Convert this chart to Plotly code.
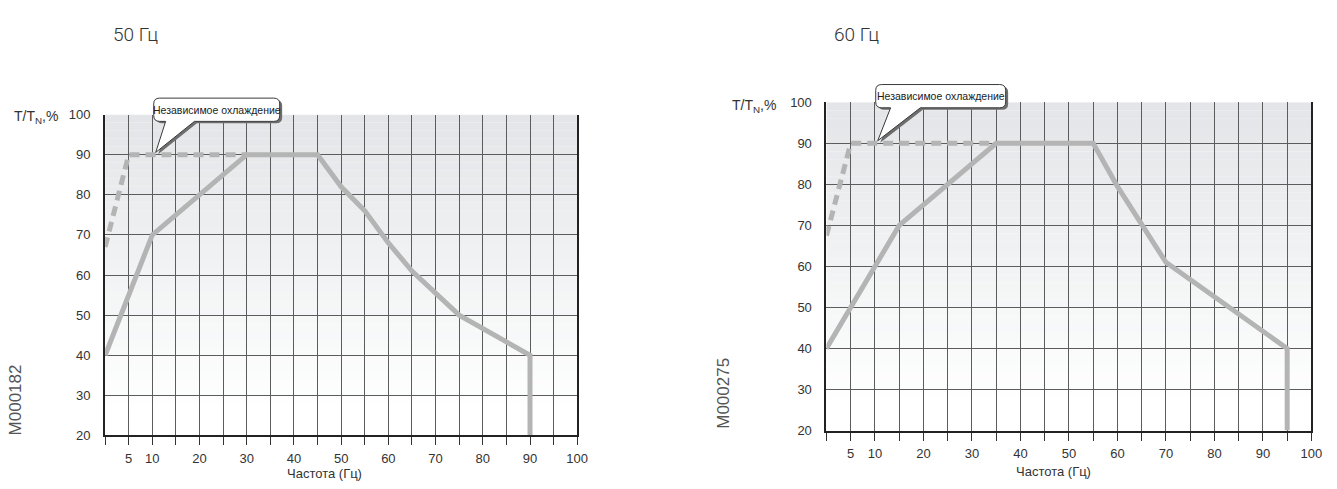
import plotly.graph_objects as go

# ---------------- data ----------------
freq50_solid = [0, 10, 30, 45, 50, 55, 60, 65, 75, 90, 90]
torque50_solid = [40, 70, 90, 90, 82, 76, 68, 61, 50, 40, 20]
freq50_dash = [0, 5, 30]
torque50_dash = [67, 90, 90]

freq60_solid = [0, 15, 35, 55, 60, 65, 70, 95, 95]
torque60_solid = [40, 70, 90, 90, 79.5, 70, 61, 40, 20]
freq60_dash = [0, 5, 35]
torque60_dash = [67.5, 90, 90]

x_tickvals = [5, 10, 20, 30, 40, 50, 60, 70, 80, 90, 100]
x_ticktext = ["5", "10", "20", "30", "40", "50", "60", "70", "80", "90", "100"]
y_tickvals = [20, 30, 40, 50, 60, 70, 80, 90, 100]

titles = ["50 Гц", "60 Гц"]
codes = ["M000182", "M000275"]
callout_text = "Независимое охлаждение"
x_title = "Частота (Гц)"
y_title = "T/T<sub>N</sub>,%"

# ---------------- geometry (pixels) ----------------
W, H = 1337, 489


def px(x):
    return x / W


def py(y):
    return 1 - y / H


LINE_COL = "#b4b4b4"
GRID_COL = "#5c5c5c"
TXT_COL = "#333333"
FONT = "Liberation Sans, Arial, sans-serif"
LIGHT = "Roboto, Liberation Sans, sans-serif"

fig = go.Figure()

panels = [
    dict(xs=freq50_solid, ys=torque50_solid, xd=freq50_dash, yd=torque50_dash, xa="x", ya="y"),
    dict(xs=freq60_solid, ys=torque60_solid, xd=freq60_dash, yd=torque60_dash, xa="x2", ya="y2"),
]

for p in panels:
    fig.add_trace(go.Scatter(x=p["xd"], y=p["yd"], xaxis=p["xa"], yaxis=p["ya"],
                             mode="lines", line=dict(color=LINE_COL, width=5, dash="10px,6px"),
                             hoverinfo="skip", showlegend=False))
    fig.add_trace(go.Scatter(x=p["xs"], y=p["ys"], xaxis=p["xa"], yaxis=p["ya"],
                             mode="lines", line=dict(color=LINE_COL, width=5),
                             hoverinfo="skip", showlegend=False))

shapes = []
# gradient background bands
nb = 40
for p in panels:
    for i in range(nb):
        y0 = 20 + i * 2
        y1 = y0 + 2
        t = min(max((y1 - 25) / 75.0, 0), 1)
        c = int(round(255 - t * (255 - 228)))
        c2 = int(round(255 - t * (255 - 232)))
        shapes.append(dict(type="rect", xref=p["xa"], yref=p["ya"], x0=0, x1=100,
                           y0=y0, y1=y1, layer="below", line=dict(width=0),
                           fillcolor=f"rgb({c},{c+1},{c2})"))


def bubble_path(x0, y0, x1, y1, xa, xb, tx, ty, r=6, dx=0, dy=0):
    def P(x, y):
        return f"{px(x + dx):.5f},{py(y + dy):.5f}"
    s = (f"M{P(x0 + r, y0)} L{P(x1 - r, y0)} Q{P(x1, y0)} {P(x1, y0 + r)} "
         f"L{P(x1, y1 - r)} Q{P(x1, y1)} {P(x1 - r, y1)} L{P(xb, y1)} L{P(tx, ty)} "
         f"L{P(xa, y1)} L{P(x0 + r, y1)} Q{P(x0, y1)} {P(x0, y1 - r)} "
         f"L{P(x0, y0 + r)} Q{P(x0, y0)} {P(x0 + r, y0)} Z")
    return s


bubbles = [
    dict(box=(155, 94, 282, 118), tail=(167, 196, 157, 150)),
    dict(box=(883, 80, 1014, 104), tail=(898, 928, 885, 138)),
]
for b in bubbles:
    x0, y0, x1, y1 = b["box"]
    xa_, xb_, tx, ty = b["tail"]
    shapes.append(dict(type="path", xref="paper", yref="paper", layer="above",
                       path=bubble_path(x0, y0, x1, y1, xa_, xb_, tx, ty, dx=2.5, dy=2),
                       fillcolor="#6e6e6e", line=dict(width=0)))
    shapes.append(dict(type="path", xref="paper", yref="paper", layer="above",
                       path=bubble_path(x0, y0, x1, y1, xa_, xb_, tx, ty),
                       fillcolor="white", line=dict(color="#3a3a3a", width=1)))

annotations = []
for b in bubbles:
    x0, y0, x1, y1 = b["box"]
    annotations.append(dict(xref="paper", yref="paper", x=px((x0 + x1) / 2), y=py((y0 + y1) / 2),
                            text=callout_text, showarrow=False, xanchor="center", yanchor="middle",
                            font=dict(family=FONT, size=10.5, color="#222")))

# titles
for t, xpix in zip(titles, [112, 839]):
    annotations.append(dict(xref="paper", yref="paper", x=px(xpix), y=py(28), text=t,
                            showarrow=False, xanchor="left", yanchor="middle",
                            font=dict(family=LIGHT, size=19, color="#333", weight=300)))
# y titles
for xpix, ypix in [(12, 113), (736, 102)]:
    annotations.append(dict(xref="paper", yref="paper", x=px(xpix), y=py(ypix), text=y_title,
                            showarrow=False, xanchor="left", yanchor="middle",
                            font=dict(family=FONT, size=14, color=TXT_COL)))
# codes
for c, xpix, ypix in zip(codes, [16, 730], [405, 398]):
    annotations.append(dict(xref="paper", yref="paper", x=px(xpix), y=py(ypix), text=c,
                            showarrow=False, textangle=-90, xanchor="center", yanchor="middle",
                            font=dict(family=FONT, size=17, color="#555")))
# x titles
for xa_, xv, ypix in [("x", 46.5, 481), ("x2", 46.9, 479)]:
    annotations.append(dict(xref=xa_, yref="paper", x=xv, y=py(ypix), text=x_title,
                            showarrow=False, xanchor="center", yanchor="middle",
                            font=dict(family=FONT, size=13, color=TXT_COL)))

xaxis_common = dict(range=[0, 100], tickmode="array", tickvals=x_tickvals, ticktext=x_ticktext,
                    ticks="outside", ticklen=8, tickwidth=1, tickcolor="#333",
                    showgrid=True, gridcolor=GRID_COL, gridwidth=1,
                    showline=True, linecolor="#222", linewidth=2,
                    minor=dict(tick0=0, dtick=5, ticks="outside", ticklen=8, tickwidth=1,
                               tickcolor="#333", showgrid=True, gridcolor=GRID_COL, gridwidth=1),
                    tickfont=dict(family=FONT, size=13, color=TXT_COL),
                    zeroline=False, fixedrange=True, ticklabelstandoff=2)
yaxis_common = dict(range=[20, 100], tickmode="array", tickvals=y_tickvals,
                    ticks="", showgrid=True, gridcolor=GRID_COL, gridwidth=1,
                    showline=True, linecolor="#222", linewidth=2, mirror=True,
                    tickfont=dict(family=FONT, size=13, color=TXT_COL),
                    zeroline=False, fixedrange=True, ticklabelstandoff=10)

fig.update_layout(
    width=W, height=H, autosize=False,
    margin=dict(l=0, r=0, t=0, b=0),
    paper_bgcolor="white", plot_bgcolor="white",
    showlegend=False,
    xaxis=dict(domain=[px(106), px(582)], anchor="y", **xaxis_common),
    yaxis=dict(domain=[py(442), py(111)], anchor="x", **yaxis_common),
    xaxis2=dict(domain=[px(833.3), px(1322.3)], anchor="y2", **xaxis_common),
    yaxis2=dict(domain=[py(437), py(98.3)], anchor="x2", **yaxis_common),
    shapes=shapes,
    annotations=annotations,
)

fig.write_html(
    "out.html",
    config={"responsive": False, "displayModeBar": False},
    post_script="document.body.style.margin='0';document.body.style.overflow='hidden';",
)
